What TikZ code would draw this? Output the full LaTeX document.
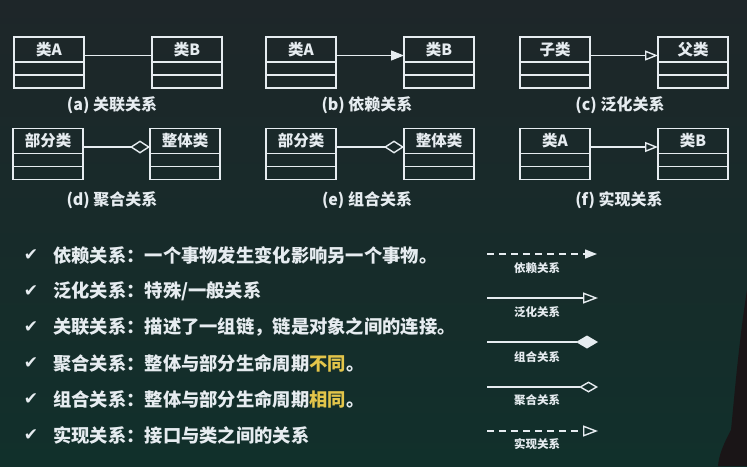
\documentclass[tikz,border=0pt]{standalone}
\usepackage{fontspec}
\setmainfont{Noto Sans CJK SC}
\newfontfamily\symfont{DejaVu Sans}
\usepackage{xcolor}
\usetikzlibrary{positioning,arrows.meta}
\definecolor{boardtop}{HTML}{1E2629}
\definecolor{boardbottom}{HTML}{11302B}
\definecolor{shadowcolor}{HTML}{1A1517}
\definecolor{chalk}{HTML}{E6ECF0}
\definecolor{hlyellow}{HTML}{E3C54A}
\tikzstyle{classtitle} = [
    draw=chalk,
    line width=1.3pt,
    minimum width=70pt,
    minimum height=25pt,
    inner sep=0pt,
    outer sep=0pt,
    text=chalk,
    font=\fontsize{15.5}{15.5}\selectfont\bfseries
    ]
\tikzstyle{classrow} = [
    draw=chalk,
    line width=1.3pt,
    minimum width=70pt,
    minimum height=13pt,
    inner sep=0pt,
    outer sep=0pt
    ]
\tikzstyle{caption} = [
    text=chalk,
    font=\fontsize{16}{16}\selectfont\bfseries
    ]
\tikzstyle{link} = [
    draw=chalk,
    line width=1.4pt
    ]
\tikzstyle{checkmark} = [
    text=chalk,
    font=\symfont\fontsize{17}{17}\selectfont
    ]
\tikzstyle{bulletline} = [
    anchor=west,
    inner sep=0pt,
    text=chalk,
    font=\fontsize{18.3}{19}\selectfont\bfseries
    ]
\tikzstyle{legendlabel} = [
    text=chalk,
    font=\fontsize{11.5}{11.5}\selectfont\bfseries
    ]
\tikzstyle{dashline} = [dash pattern=on 7pt off 5pt]
\newcommand{\umlclass}[3]{% name, position, title
    \node[classtitle] (#1) at (#2) {#3};
    \node[classrow, below=0pt of #1] (#1-f) {};
    \node[classrow, below=0pt of #1-f] (#1-m) {};
}
\begin{document}
\begin{tikzpicture}[x=1pt, y=-1pt]
\shade[top color=boardtop, bottom color=boardbottom] (0,0) rectangle (747,466);
\useasboundingbox (0,0) rectangle (747,466);
\fill[shadowcolor] (747,290) .. controls (739,340) and (734,400) .. (731,430)
    .. controls (723,445) and (719,455) .. (718,466) -- (747,466) -- cycle;

% (a) - (c)
\umlclass{a1}{49,49.5}{类A}
\umlclass{a2}{187,49.5}{类B}
\draw[link] ([yshift=-6pt]a1.east) -- ([yshift=-6pt]a2.west);
\node[caption] (a-cap) at (112,105) {(a) 关联关系};

\umlclass{b1}{301,49.5}{类A}
\umlclass{b2}{439,49.5}{类B}
\draw[link, -{Triangle[length=13pt,width=10pt]}] ([yshift=-6pt]b1.east) -- ([yshift=-6pt]b2.west);
\node[caption] (b-cap) at (367,105) {(b) 依赖关系};

\umlclass{c1}{555,49.5}{子类}
\umlclass{c2}{693,49.5}{父类}
\draw[link, -{Triangle[open,length=13pt,width=10pt]}] ([yshift=-6pt]c1.east) -- ([yshift=-6pt]c2.west);
\node[caption] (c-cap) at (620,105) {(c) 泛化关系};

% (d) - (f)
\umlclass{d1}{48,141}{部分类}
\umlclass{d2}{185,141}{整体类}
\draw[link, -{Diamond[open,length=20pt,width=13pt]}] ([yshift=-6pt]d1.east) -- ([yshift=-6pt]d2.west);
\node[caption] (d-cap) at (112,200) {(d) 聚合关系};

\umlclass{e1}{301,141}{部分类}
\umlclass{e2}{439,141}{整体类}
\draw[link, -{Diamond[open,length=20pt,width=13pt]}] ([yshift=-6pt]e1.east) -- ([yshift=-6pt]e2.west);
\node[caption] (e-cap) at (367,200) {(e) 组合关系};

\umlclass{f1}{555,141}{类A}
\umlclass{f2}{693,141}{类B}
\draw[link, -{Triangle[open,length=13pt,width=10pt]}] ([yshift=-6pt]f1.east) -- ([yshift=-6pt]f2.west);
\node[caption] (f-cap) at (619,200) {(f) 实现关系};

% notes
\node[checkmark] (t1) at (31,255) {✔};
\node[bulletline] (n1) at (53,255) {依赖关系：一个事物发生变化影响另一个事物。};
\node[checkmark] (t2) at (31,291) {✔};
\node[bulletline] (n2) at (53,291) {泛化关系：特殊/一般关系};
\node[checkmark] (t3) at (31,327) {✔};
\node[bulletline] (n3) at (53,327) {关联关系：描述了一组链，链是对象之间的连接。};
\node[checkmark] (t4) at (31,363) {✔};
\node[bulletline] (n4) at (53,363) {聚合关系：整体与部分生命周期\textcolor{hlyellow}{不同}。};
\node[checkmark] (t5) at (31,399) {✔};
\node[bulletline] (n5) at (53,399) {组合关系：整体与部分生命周期\textcolor{hlyellow}{相同}。};
\node[checkmark] (t6) at (31,435) {✔};
\node[bulletline] (n6) at (53,435) {实现关系：接口与类之间的关系};

% legend
\coordinate (dep-s) at (487,254);
\coordinate (dep-e) at (597,254);
\draw[link, dashline, -{Triangle[length=12pt,width=9pt]}] (dep-s) -- (dep-e);
\node[legendlabel] (dep-l) at (537,268) {依赖关系};

\coordinate (gen-s) at (487,298);
\coordinate (gen-e) at (598,298);
\draw[link, -{Triangle[open,length=15pt,width=11pt]}] (gen-s) -- (gen-e);
\node[legendlabel] (gen-l) at (537,312) {泛化关系};

\coordinate (com-s) at (487,342);
\coordinate (com-e) at (598,342);
\draw[link, -{Diamond[length=22pt,width=13pt]}] (com-s) -- (com-e);
\node[legendlabel] (com-l) at (537,357) {组合关系};

\coordinate (agg-s) at (487,387);
\coordinate (agg-e) at (598,387);
\draw[link, -{Diamond[open,length=19pt,width=11pt]}] (agg-s) -- (agg-e);
\node[legendlabel] (agg-l) at (537,400) {聚合关系};

\coordinate (rea-s) at (487,431);
\coordinate (rea-e) at (598,431);
\draw[link, dashline, -{Triangle[open,length=15pt,width=11pt]}] (rea-s) -- (rea-e);
\node[legendlabel] (rea-l) at (537,444) {实现关系};
\end{tikzpicture}
\end{document}
